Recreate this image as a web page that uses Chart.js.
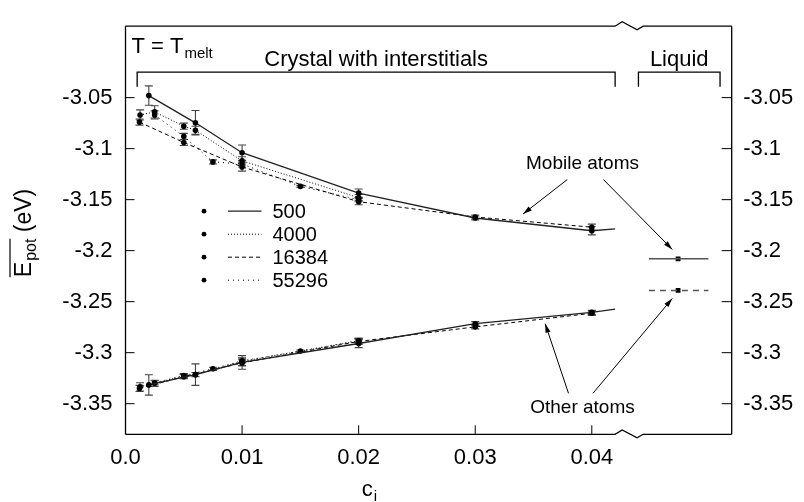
<!DOCTYPE html>
<html>
<head>
<meta charset="utf-8">
<script src="https://cdn.jsdelivr.net/npm/chart.js@4/dist/chart.umd.min.js"></script>
<style>
    html, body { margin: 0; padding: 0; background: #fff; }
    #wrap { width: 804px; height: 502px; }
</style>
</head>
<body>
<div id="wrap"><canvas id="chart" width="804" height="502"></canvas></div>
<script>
// ================================================================
// DATOS
// ================================================================
const xTicks = [0, 0.01, 0.02, 0.03, 0.04];
const xTickLabels = ['0.0', '0.01', '0.02', '0.03', '0.04'];
const yTicks = [-3.35, -3.3, -3.25, -3.2, -3.15, -3.1, -3.05];
const yTickLabels = ['-3.35', '-3.3', '-3.25', '-3.2', '-3.15', '-3.1', '-3.05'];

const legendLabels = ['500', '4000', '16384', '55296'];

// N = 500
const conc500 = [0.002, 0.006, 0.01, 0.02, 0.03, 0.04, 0.042];
const mobile500 = [-3.048, -3.0747, -3.104, -3.1436, -3.168, -3.1805, -3.1787];
const mobileErr500 = [0.0095, 0.012, 0.0075, 0.004, 0.002, 0.004, 0];
const other500 = [-3.3316, -3.3215, -3.3095, -3.291, -3.2716, -3.2605, -3.2574];
const otherErr500 = [0.010, 0.0105, 0.0068, 0.004, 0.002, 0.002, 0];

// N = 4000
const conc4000 = [0.00125, 0.0025, 0.005, 0.006, 0.01, 0.02];
const mobile4000 = [-3.067, -3.064, -3.078, -3.082, -3.112, -3.148];
const mobileErr4000 = [0.005, 0.006, 0.003, 0.004, 0.004, 0.003];
const other4000 = [-3.3335, -3.330, -3.3228, -3.3215, -3.3085, -3.2885];
const otherErr4000 = [0.004, 0.003, 0.002, 0.002, 0.004, 0.002];

// N = 16384
const conc16384 = [0.0012, 0.005, 0.01, 0.02, 0.03, 0.04];
const mobile16384 = [-3.074, -3.094, -3.118, -3.152, -3.167, -3.177];
const mobileErr16384 = [0.003, 0.003, 0.004, 0.003, 0.002, 0.003];
const other16384 = [-3.335, -3.3235, -3.310, -3.289, -3.2747, -3.2614];
const otherErr16384 = [0.003, 0.002, 0.003, 0.003, 0.002, 0.002];

// N = 55296
const conc55296 = [0.0025, 0.005, 0.0075, 0.01, 0.015, 0.02];
const mobile55296 = [-3.067, -3.088, -3.113, -3.115, -3.137, -3.150];
const mobileErr55296 = [0.004, 0.003, 0.002, 0.003, 0.001, 0.002];
const other55296 = [-3.3295, -3.3225, -3.3158, -3.308, -3.2984, -3.288];
const otherErr55296 = [0.002, 0.002, 0.0015, 0.002, 0.001, 0.002];

// Liquido
const liquidSpan = [0.0449, 0.0500];
const liquidMid = 0.0474;
const liquidMobile = -3.208;
const liquidOther = -3.239;

// ================================================================
// ESTILO
// ================================================================
const FONT = "'Liberation Sans', Arial, Helvetica, sans-serif";
const lineEndConc = 0.042;          // final de la linea sin marcador
const axisBreak = [0.0420, 0.0444];  // corte del eje
const crystalBracket = [0.001, 0.042];
const liquidBracket = [0.0440, 0.0510];
const bracketY = [-3.025, -3.0393];

const mobileArrows = [[0.0379, -3.1303, 0.0341, -3.1641], [0.0410, -3.1303, 0.0469, -3.1988]];
const otherArrows = [[0.0380, -3.3398, 0.0360, -3.2716], [0.0401, -3.3398, 0.0469, -3.2469]];
const arrowTextConc = 0.0392;

const STYLES = {
    '500':   { color: '#222', width: 1.3, dash: [] },
    '4000':  { color: '#000', width: 1, dash: [1, 2] },
    '16384': { color: '#000', width: 1, dash: [4, 3] },
    '55296': { color: '#000', width: 1, dash: [1, 4] }
};

function makeSet(xs, ys, errs, style) {
    return {
        data: xs.map((c, i) => ({ x: c, y: ys[i] })),
        errs: errs,
        showLine: true,
        borderColor: style.color,
        borderWidth: style.width,
        borderDash: style.dash,
        backgroundColor: '#000',
        pointBackgroundColor: '#000',
        pointBorderWidth: 0,
        pointRadius: ctx => (ctx.raw && ctx.raw.x >= lineEndConc ? 0 : 2.8),
        tension: 0
    };
}

function liquidLine(yv, dash) {
    return {
        data: liquidSpan.map(c => ({ x: c, y: yv })),
        showLine: true,
        borderColor: '#555',
        borderWidth: 1.5,
        borderDash: dash,
        pointRadius: 0
    };
}

function liquidPoint(yv) {
    return {
        data: [{ x: liquidMid, y: yv }],
        pointStyle: 'rect',
        pointRadius: 3.4,
        pointBackgroundColor: '#000',
        pointBorderWidth: 0
    };
}

const datasets = [
    makeSet(conc500, mobile500, mobileErr500, STYLES['500']),
    makeSet(conc500, other500, otherErr500, STYLES['500']),
    makeSet(conc4000, mobile4000, mobileErr4000, STYLES['4000']),
    makeSet(conc4000, other4000, otherErr4000, STYLES['4000']),
    makeSet(conc16384, mobile16384, mobileErr16384, STYLES['16384']),
    makeSet(conc16384, other16384, otherErr16384, STYLES['16384']),
    makeSet(conc55296, mobile55296, mobileErr55296, STYLES['55296']),
    makeSet(conc55296, other55296, otherErr55296, STYLES['55296']),
    liquidLine(liquidMobile, []),
    liquidLine(liquidOther, [6, 5]),
    liquidPoint(liquidMobile),
    liquidPoint(liquidOther)
];

// ================================================================
// PLUGINS
// ================================================================
function drawArrow(ctx, x0, y0, x1, y1) {
    ctx.beginPath();
    ctx.moveTo(x0, y0);
    ctx.lineTo(x1, y1);
    ctx.stroke();
    const ang = Math.atan2(y1 - y0, x1 - x0), L = 9, W = 2.6;
    ctx.beginPath();
    ctx.moveTo(x1, y1);
    ctx.lineTo(x1 - L * Math.cos(ang) + W * Math.sin(ang), y1 - L * Math.sin(ang) - W * Math.cos(ang));
    ctx.lineTo(x1 - L * Math.cos(ang) - W * Math.sin(ang), y1 - L * Math.sin(ang) + W * Math.cos(ang));
    ctx.closePath();
    ctx.fill();
}

const errorBars = {
    id: 'errorBars',
    beforeDatasetsDraw(chart) {
        const { ctx, scales: { x, y } } = chart;
        ctx.save();
        ctx.strokeStyle = '#444';
        ctx.lineWidth = 1.1;
        chart.data.datasets.forEach(ds => {
            if (!ds.errs) return;
            ds.data.forEach((p, i) => {
                const e = ds.errs[i];
                if (!e) return;
                const px = x.getPixelForValue(p.x);
                const y1 = y.getPixelForValue(p.y - e), y2 = y.getPixelForValue(p.y + e);
                ctx.beginPath();
                ctx.moveTo(px, y1); ctx.lineTo(px, y2);
                ctx.moveTo(px - 4, y1); ctx.lineTo(px + 4, y1);
                ctx.moveTo(px - 4, y2); ctx.lineTo(px + 4, y2);
                ctx.stroke();
            });
        });
        ctx.restore();
    }
};

const decor = {
    id: 'decor',
    afterDraw(chart) {
        const { ctx, chartArea: a, scales: { x, y } } = chart;
        const b0 = x.getPixelForValue(axisBreak[0]), b1 = x.getPixelForValue(axisBreak[1]);
        ctx.save();
        ctx.strokeStyle = '#000';
        ctx.fillStyle = '#000';
        ctx.lineWidth = 1.3;

        // marco con corte
        ctx.beginPath();
        ctx.moveTo(a.left, a.top); ctx.lineTo(a.left, a.bottom);
        ctx.moveTo(a.right, a.top); ctx.lineTo(a.right, a.bottom);
        [a.top, a.bottom].forEach(yy => {
            ctx.moveTo(a.left, yy);
            ctx.lineTo(b0, yy);
            ctx.lineTo(b0 + 7, yy - 4.4);
            ctx.lineTo(b1 - 6, yy + 3.5);
            ctx.lineTo(b1, yy);
            ctx.lineTo(a.right, yy);
        });
        ctx.stroke();

        // ticks hacia dentro
        ctx.lineWidth = 1;
        ctx.beginPath();
        xTicks.forEach(v => {
            const px = x.getPixelForValue(v);
            ctx.moveTo(px, a.bottom); ctx.lineTo(px, a.bottom - 9);
        });
        yTicks.forEach(v => {
            const py = y.getPixelForValue(v);
            ctx.moveTo(a.left, py); ctx.lineTo(a.left + 9, py);
            ctx.moveTo(a.right, py); ctx.lineTo(a.right - 10, py);
        });
        ctx.stroke();

        // corchetes
        ctx.lineWidth = 1.3;
        const yb0 = y.getPixelForValue(bracketY[0]), yb1 = y.getPixelForValue(bracketY[1]);
        [crystalBracket, liquidBracket].forEach(br => {
            const l = x.getPixelForValue(br[0]), r = x.getPixelForValue(br[1]);
            ctx.beginPath();
            ctx.moveTo(l, yb1); ctx.lineTo(l, yb0); ctx.lineTo(r, yb0); ctx.lineTo(r, yb1);
            ctx.stroke();
        });

        // textos
        ctx.textBaseline = 'alphabetic';
        ctx.textAlign = 'center';
        ctx.font = `22px ${FONT}`;
        const cMid = (x.getPixelForValue(crystalBracket[0]) + x.getPixelForValue(crystalBracket[1])) / 2;
        const lMid = (x.getPixelForValue(liquidBracket[0]) + x.getPixelForValue(liquidBracket[1])) / 2;
        ctx.fillText('Crystal with interstitials', cMid, yb0 - 6);
        ctx.fillText('Liquid', lMid, yb0 - 6);

        ctx.textAlign = 'left';
        ctx.fillText('T = T', a.left + 6, a.top + 26.6);
        let w = ctx.measureText('T = T').width;
        ctx.font = `15px ${FONT}`;
        ctx.fillText('melt', a.left + 6 + w + 1, a.top + 31.5);

        // flechas
        ctx.font = `19px ${FONT}`;
        ctx.textAlign = 'center';
        ctx.fillText('Mobile atoms', x.getPixelForValue(arrowTextConc), y.getPixelForValue(-3.12));
        ctx.fillText('Other atoms', x.getPixelForValue(arrowTextConc), y.getPixelForValue(-3.3595));
        ctx.lineWidth = 1;
        mobileArrows.concat(otherArrows).forEach(ar => {
            drawArrow(ctx, x.getPixelForValue(ar[0]), y.getPixelForValue(ar[1]),
                x.getPixelForValue(ar[2]), y.getPixelForValue(ar[3]));
        });

        // leyenda
        ctx.textAlign = 'left';
        ctx.textBaseline = 'middle';
        ctx.font = `20px ${FONT}`;
        legendLabels.forEach((lab, i) => {
            const st = STYLES[lab];
            const ly = a.top + 185 + i * 23;
            ctx.beginPath();
            ctx.arc(a.left + 78.5, ly, 2.4, 0, Math.PI * 2);
            ctx.fill();
            ctx.save();
            ctx.strokeStyle = st.color;
            ctx.lineWidth = st.width;
            ctx.setLineDash(st.dash);
            ctx.beginPath();
            ctx.moveTo(a.left + 102.5, ly); ctx.lineTo(a.left + 136, ly);
            ctx.stroke();
            ctx.restore();
            ctx.fillText(lab, a.left + 147, ly + 1);
        });

        // titulo eje x
        ctx.textBaseline = 'alphabetic';
        ctx.font = `22px ${FONT}`;
        const cx = x.getPixelForValue(0.02) + 3;
        ctx.fillText('c', cx, 496);
        w = ctx.measureText('c').width;
        ctx.font = `15px ${FONT}`;
        ctx.fillText('i', cx + w + 1, 501);

        // titulo eje y
        ctx.save();
        ctx.translate(31, 233);
        ctx.rotate(-Math.PI / 2);
        ctx.font = `23px ${FONT}`;
        const wE = ctx.measureText('E').width;
        const wRest = ctx.measureText(' (eV)').width;
        ctx.font = `16px ${FONT}`;
        const wPot = ctx.measureText('pot').width;
        const total = wE + wPot + 1 + wRest;
        let tx = -total / 2;
        ctx.font = `23px ${FONT}`;
        ctx.fillText('E', tx, 0);
        ctx.font = `16px ${FONT}`;
        ctx.fillText('pot', tx + wE + 1, 5);
        ctx.font = `23px ${FONT}`;
        ctx.fillText(' (eV)', tx + wE + 1 + wPot, 0);
        ctx.lineWidth = 1.2;
        ctx.beginPath();
        ctx.moveTo(tx, -21); ctx.lineTo(tx + wE + 1 + wPot, -21);
        ctx.stroke();
        ctx.restore();

        ctx.restore();
    }
};

// ================================================================
// GRAFICO
// ================================================================
const tickFont = { family: FONT, size: 22 };

new Chart(document.getElementById('chart').getContext('2d'), {
    type: 'scatter',
    data: { datasets: datasets },
    options: {
        responsive: false,
        animation: false,
        layout: { padding: { top: 12.7, left: 0, right: 0, bottom: 0 } },
        plugins: { legend: { display: false }, tooltip: { enabled: false } },
        scales: {
            x: {
                type: 'linear',
                position: 'bottom',
                min: 0,
                max: 0.052,
                afterBuildTicks: s => { s.ticks = xTicks.map(v => ({ value: v })); },
                afterFit: s => { s.height = 502 - 434.3; },
                ticks: {
                    callback: (v, i) => xTickLabels[i],
                    font: tickFont, color: '#000', padding: 10,
                    autoSkip: false, maxRotation: 0
                },
                grid: { display: false, drawTicks: false },
                border: { display: false }
            },
            y: {
                type: 'linear',
                position: 'left',
                min: -3.38,
                max: -2.98,
                afterBuildTicks: s => { s.ticks = yTicks.map(v => ({ value: v })); },
                afterFit: s => { s.width = 125.5; },
                ticks: {
                    callback: (v, i) => yTickLabels[i],
                    font: tickFont, color: '#000', padding: 13, autoSkip: false
                },
                grid: { display: false, drawTicks: false },
                border: { display: false }
            },
            y2: {
                type: 'linear',
                position: 'right',
                display: true,
                min: -3.38,
                max: -2.98,
                afterBuildTicks: s => { s.ticks = yTicks.map(v => ({ value: v })); },
                afterFit: s => { s.width = 804 - 731.7; },
                ticks: {
                    callback: (v, i) => yTickLabels[i],
                    font: tickFont, color: '#000', padding: 11.5, autoSkip: false
                },
                grid: { display: false, drawTicks: false },
                border: { display: false }
            }
        }
    },
    plugins: [errorBars, decor]
});
</script>
</body>
</html>
